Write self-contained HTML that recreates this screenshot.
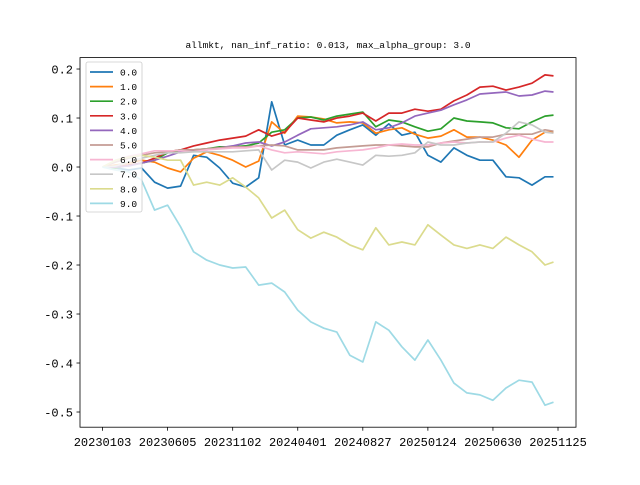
<!DOCTYPE html>
<html><head><meta charset="utf-8"><style>
body{margin:0;background:#fff}
</style></head><body>
<svg id="chart" width="640" height="480" viewBox="0 0 640 480">
<rect width="640" height="480" fill="#fff"/>
<text x="328" y="48" font-size="9.5" text-anchor="middle" style="font-family:'Liberation Mono',monospace">allmkt, nan_inf_ratio: 0.013, max_alpha_group: 3.0</text>
<g id="series"></g>
<rect x="80" y="57.6" width="496" height="369.6" fill="none" stroke="#000" stroke-width="0.8"/>
<g id="axes"></g>
<g id="legend"></g>
</svg>
<script>
const idx=[0,20,40,60,80,100,120,140,160,180,200,220,240,260,280,300,320,340,360,380,400,420,440,460,480,500,520,540,560,580,600,620,640,660,680,693];
const labels=["0.0","1.0","2.0","3.0","4.0","5.0","6.0","7.0","8.0","9.0"];
const colors=["#1f77b4","#ff7f0e","#2ca02c","#d62728","#9467bd","#c49c94","#f7b6d2","#c7c7c7","#dbdb8d","#9edae5"];
const s0=[0,-.002,-.006,-.002,-.031,-.043,-.039,.024,.020,-.002,-.033,-.041,-.022,.133,.045,.055,.045,.045,.065,.076,.086,.065,.088,.065,.071,.024,.010,.039,.024,.014,.014,-.020,-.022,-.037,-.020,-.020];
const s1=[0,.004,.008,.014,.010,-.002,-.010,.018,.031,.024,.014,0,.012,.092,.069,.104,.102,.098,.090,.092,.090,.069,.076,.080,.067,.059,.063,.076,.061,.061,.055,.045,.020,.055,.071,.071];
const s2=[0,-.002,.004,.008,.014,.029,.033,.035,.037,.041,.041,.043,.049,.071,.076,.100,.102,.096,.104,.108,.112,.082,.096,.092,.082,.073,.078,.100,.094,.092,.090,.080,.078,.092,.104,.106];
const s3=[0,0,.004,.008,.018,.031,.035,.043,.049,.055,.059,.063,.076,.063,.071,.100,.096,.092,.100,.104,.110,.094,.110,.110,.118,.114,.118,.135,.147,.163,.165,.157,.163,.171,.188,.186];
const s4=[0,0,.002,.008,.014,.022,.031,.035,.035,.039,.043,.049,.051,.043,.051,.065,.078,.080,.082,.086,.092,.076,.080,.090,.104,.110,.116,.127,.137,.149,.151,.153,.145,.147,.155,.153];
const s5=[0,.010,.018,.024,.029,.031,.035,.035,.037,.039,.041,.041,.043,.045,.043,.035,.035,.035,.039,.041,.043,.045,.045,.043,.041,.041,.049,.053,.057,.061,.061,.067,.067,.067,.076,.073];
const s6=[0,.014,.022,.027,.033,.033,.033,.031,.035,.037,.039,.039,.043,.035,.029,.031,.029,.027,.031,.033,.035,.039,.045,.047,.045,.045,.049,.051,.049,.051,.051,.059,.065,.057,.051,.051];
const s7=[0,.002,.010,.018,.024,.029,.029,.031,.031,.031,.031,.033,.035,-.006,.014,.010,-.002,.010,.016,.010,.004,.024,.022,.024,.029,.051,.045,.045,.049,.051,.051,.069,.092,.086,.071,.069];
const s8=[0,.014,.020,.024,.020,.014,.014,-.037,-.031,-.037,-.022,-.041,-.063,-.104,-.088,-.128,-.145,-.133,-.143,-.159,-.169,-.124,-.159,-.153,-.159,-.118,-.139,-.159,-.166,-.159,-.166,-.143,-.159,-.173,-.2,-.194];
const s9=[0,-.006,-.010,-.027,-.088,-.078,-.122,-.173,-.190,-.200,-.206,-.204,-.241,-.237,-.255,-.292,-.316,-.329,-.337,-.384,-.398,-.316,-.333,-.367,-.394,-.353,-.394,-.441,-.461,-.465,-.476,-.451,-.435,-.439,-.486,-.480];
const xTickVals=[0,100,200,300,400,500,600,700];
const xTickLabels=["20230103","20230605","20231102","20240401","20240827","20250124","20250630","20251125"];
const yTickVals=[0.2,0.1,0,-0.1,-0.2,-0.3,-0.4,-0.5];
const yTickLabels=["0.2","0.1","0.0","-0.1","-0.2","-0.3","-0.4","-0.5"];
const series=[s0,s1,s2,s3,s4,s5,s6,s7,s8,s9];
const NS="http://www.w3.org/2000/svg";
const xMin=-34.65,xMax=727.65,yMin=-0.531,yMax=0.2233;
function xs(i){return 80+(i-xMin)/(xMax-xMin)*496;}
function ys(v){return 427.2-(v-yMin)/(yMax-yMin)*369.6;}
const MONO="font-family:'Liberation Mono',monospace";
const sg=document.getElementById('series');
series.forEach((s,k)=>{
  const p=document.createElementNS(NS,'polyline');
  p.setAttribute('points',s.map((v,j)=>xs(idx[j]).toFixed(1)+','+ys(v).toFixed(1)).join(' '));
  p.setAttribute('fill','none');p.setAttribute('stroke',colors[k]);p.setAttribute('stroke-width','1.7');p.setAttribute('stroke-linejoin','round');
  
  
  sg.appendChild(p);
});
const ax=document.getElementById('axes');
xTickVals.forEach((t,k)=>{
  const x=xs(t);
  const l=document.createElementNS(NS,'line');
  l.setAttribute('x1',x);l.setAttribute('x2',x);l.setAttribute('y1',427.2);l.setAttribute('y2',430.7);l.setAttribute('stroke','#000');l.setAttribute('stroke-width','0.8');
  
  
  ax.appendChild(l);
  const tx=document.createElementNS(NS,'text');
  tx.setAttribute('x',x);tx.setAttribute('y',446);tx.setAttribute('font-size','12');tx.setAttribute('text-anchor','middle');
  tx.setAttribute('style',MONO);
  tx.textContent=xTickLabels[k];
  
  
  ax.appendChild(tx);
});
yTickVals.forEach((t,k)=>{
  const y=ys(t);
  const l=document.createElementNS(NS,'line');
  l.setAttribute('x1',76.5);l.setAttribute('x2',80);l.setAttribute('y1',y);l.setAttribute('y2',y);l.setAttribute('stroke','#000');l.setAttribute('stroke-width','0.8');
  
  
  ax.appendChild(l);
  const tx=document.createElementNS(NS,'text');
  tx.setAttribute('x',73);tx.setAttribute('y',y+4.3);tx.setAttribute('font-size','12');tx.setAttribute('text-anchor','end');
  tx.setAttribute('style',MONO);
  tx.textContent=yTickLabels[k];
  
  
  ax.appendChild(tx);
});
const lg=document.getElementById('legend');
const box=document.createElementNS(NS,'rect');
box.setAttribute('x',86);box.setAttribute('y',62);box.setAttribute('width',56);box.setAttribute('height',150);box.setAttribute('rx',2);
box.setAttribute('fill','#fff');box.setAttribute('fill-opacity','0.8');box.setAttribute('stroke','#ccc');box.setAttribute('stroke-width','0.8');


lg.appendChild(box);
labels.forEach((lab,k)=>{
  const y=72+k*14.6;
  const l=document.createElementNS(NS,'line');
  l.setAttribute('x1',90);l.setAttribute('x2',113);l.setAttribute('y1',y);l.setAttribute('y2',y);l.setAttribute('stroke',colors[k]);l.setAttribute('stroke-width','1.7');
  
  
  lg.appendChild(l);
  const t=document.createElementNS(NS,'text');
  t.setAttribute('x',120);t.setAttribute('y',y+3.5);t.setAttribute('font-size','9.5');
  t.setAttribute('style',MONO);
  t.textContent=lab;
  
  
  lg.appendChild(t);
});
</script>
</body></html>
